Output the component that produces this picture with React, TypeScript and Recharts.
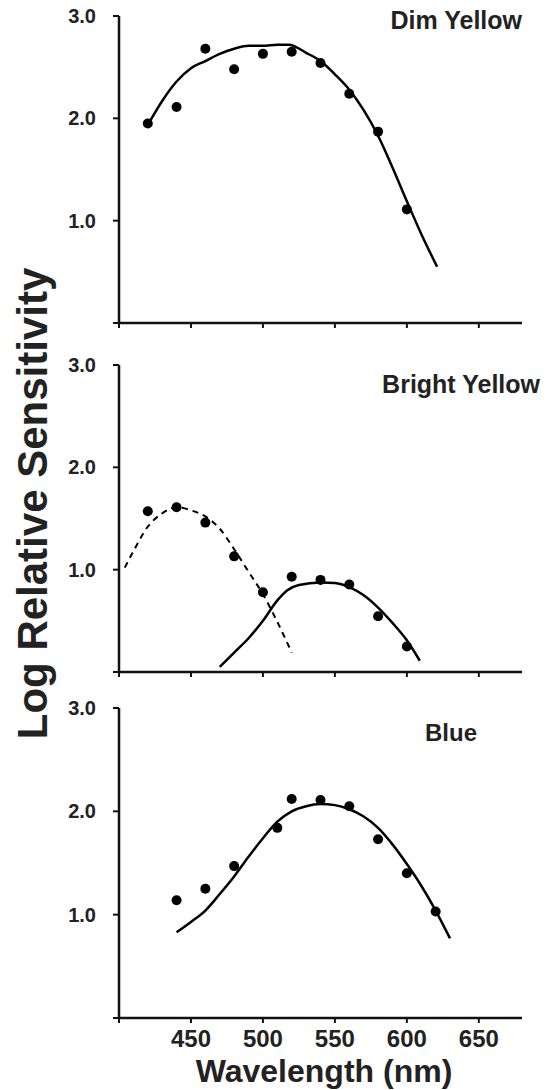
import { ComposedChart, Line, Scatter, XAxis, YAxis } from 'recharts';

const FONT = '"Liberation Sans", Arial, sans-serif';
const INK = '#111';

// x / y ticks shared by all panels
const xTicks = [400, 450, 500, 550, 600, 650];
const yTicks = [0, 1, 2, 3];

// Dim yellow
const dimPtNm = [420, 440, 460, 480, 500, 520, 540, 560, 580, 600];
const dimPtVal = [1.95, 2.11, 2.68, 2.48, 2.63, 2.65, 2.54, 2.24, 1.87, 1.11];
const dimFitNm = [421, 430, 440, 450, 460, 470, 480, 490, 500, 510, 518, 530, 540, 550, 560, 570, 580, 590, 600, 610, 621];
const dimFitVal = [1.96, 2.17, 2.36, 2.49, 2.56, 2.63, 2.68, 2.71, 2.71, 2.72, 2.72, 2.64, 2.56, 2.43, 2.28, 2.08, 1.83, 1.52, 1.19, 0.87, 0.55];

// Bright yellow
const brightPtNm = [420, 440, 460, 480, 500, 520, 540, 560, 580, 600];
const brightPtVal = [1.57, 1.61, 1.46, 1.13, 0.78, 0.93, 0.9, 0.855, 0.545, 0.25];
const brightShortNm = [404, 410, 420, 430, 440, 450, 460, 470, 480, 490, 500, 510, 520];
const brightShortVal = [1.02, 1.18, 1.42, 1.55, 1.61, 1.58, 1.52, 1.4, 1.2, 0.98, 0.76, 0.49, 0.19];
const brightLongNm = [470, 480, 490, 500, 510, 517, 525, 540, 550, 560, 570, 580, 590, 600, 609];
const brightLongVal = [0.05, 0.19, 0.33, 0.5, 0.7, 0.8, 0.85, 0.875, 0.87, 0.83, 0.75, 0.63, 0.48, 0.31, 0.11];

// Blue
const bluePtNm = [440, 460, 480, 510, 520, 540, 560, 580, 600, 620];
const bluePtVal = [1.14, 1.25, 1.47, 1.84, 2.12, 2.11, 2.05, 1.73, 1.4, 1.03];
const blueFitNm = [440, 450, 460, 470, 480, 490, 500, 510, 520, 530, 540, 550, 560, 570, 580, 590, 600, 610, 620, 630];
const blueFitVal = [0.83, 0.93, 1.04, 1.2, 1.37, 1.56, 1.74, 1.9, 2.0, 2.05, 2.07, 2.06, 2.02, 1.95, 1.84, 1.68, 1.49, 1.28, 1.04, 0.77];

const zip = (nm: number[], v: number[]) => nm.map((x, i) => ({ nm: x, v: v[i] }));

const Dot = (p: any) => <circle cx={p.cx} cy={p.cy} r={5} fill="#000" />;

type Curve = { data: { nm: number; v: number }[]; dashed?: boolean };

function Panel({ top, height, marginTop, xHeight, showX, points, curves }: {
  top: number; height: number; marginTop: number; xHeight: number; showX: boolean;
  points: { nm: number; v: number }[]; curves: Curve[];
}) {
  return (
    <div style={{ position: 'absolute', left: 0, top }}>
      <ComposedChart width={547} height={height} margin={{ top: marginTop, right: 25, bottom: 0, left: 0 }}>
        <XAxis
          type="number"
          dataKey="nm"
          domain={[400, 680]}
          ticks={xTicks}
          allowDataOverflow
          height={xHeight}
          axisLine={{ stroke: INK, strokeWidth: 2.5 }}
          tickLine={{ stroke: INK, strokeWidth: 2 }}
          tickSize={5}
          tickMargin={7}
          tick={{ fill: '#222', fontSize: 24, fontWeight: 700, fontFamily: FONT }}
          tickFormatter={(v) => (showX && v !== 400 ? String(v) : '')}
        />
        <YAxis
          type="number"
          domain={[0, 3]}
          ticks={yTicks}
          width={119}
          axisLine={{ stroke: INK, strokeWidth: 2.5 }}
          tickLine={{ stroke: INK, strokeWidth: 2 }}
          tickSize={6}
          tickMargin={17}
          tick={{ fill: '#222', fontSize: 20, fontWeight: 700, fontFamily: FONT }}
          tickFormatter={(v) => (v === 0 ? '' : Number(v).toFixed(1))}
        />
        {curves.map((c, i) => (
          <Line
            key={i}
            data={c.data}
            dataKey="v"
            type="monotone"
            stroke="#000"
            strokeWidth={c.dashed ? 2 : 2.5}
            strokeDasharray={c.dashed ? '6 5' : undefined}
            dot={false}
            activeDot={false}
            isAnimationActive={false}
          />
        ))}
        <Scatter data={points} dataKey="v" shape={Dot} isAnimationActive={false} />
      </ComposedChart>
    </div>
  );
}

export default function App() {
  const title = { fontFamily: FONT, fontWeight: 700, fill: '#222' } as const;
  return (
    <div style={{ position: 'absolute', left: 0, top: 0, width: 547, height: 1090, background: '#fff' }}>
      <Panel top={0} height={343} marginTop={16} xHeight={20} showX={false}
        points={zip(dimPtNm, dimPtVal)}
        curves={[{ data: zip(dimFitNm, dimFitVal) }]} />
      <Panel top={345} height={347} marginTop={20} xHeight={20} showX={false}
        points={zip(brightPtNm, brightPtVal)}
        curves={[{ data: zip(brightShortNm, brightShortVal), dashed: true }, { data: zip(brightLongNm, brightLongVal) }]} />
      <Panel top={695} height={363} marginTop={13} xHeight={40} showX
        points={zip(bluePtNm, bluePtVal)}
        curves={[{ data: zip(blueFitNm, blueFitVal) }]} />
      <svg width={547} height={1090} style={{ position: 'absolute', left: 0, top: 0, pointerEvents: 'none' }}>
        <text x={522} y={29} textAnchor="end" fontSize={25} {...title}>Dim Yellow</text>
        <text x={540} y={393} textAnchor="end" fontSize={25} {...title}>Bright Yellow</text>
        <text x={477} y={741} textAnchor="end" fontSize={24} {...title}>Blue</text>
        <text x={324} y={1082} textAnchor="middle" fontSize={32} {...title}>Wavelength (nm)</text>
        <text transform="translate(47, 503.5) rotate(-90)" textAnchor="middle" fontSize={42} {...title}>
          Log Relative Sensitivity
        </text>
      </svg>
    </div>
  );
}
